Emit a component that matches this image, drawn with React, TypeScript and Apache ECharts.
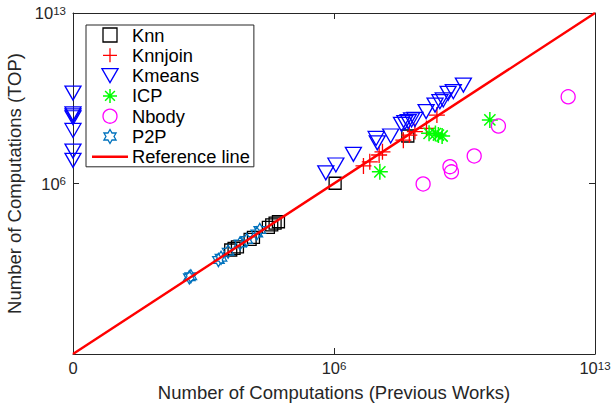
import React, { useEffect, useRef } from 'react';
import * as echarts from 'echarts';

// All values are log10 of the number of computations: [previous works, TOP]
// (-1 on the axis is the position labelled "0")
const seriesNames = ['Knn', 'Knnjoin', 'Kmeans', 'ICP', 'Nbody', 'P2P', 'Reference line'];

const knn: number[][] = [
  [3.23, 3.27], [3.32, 3.34], [3.41, 3.40], [3.75, 3.71], [3.84, 3.79],
  [4.24, 4.20], [4.33, 4.30], [4.42, 4.37], [4.51, 4.43], [6.03, 6.01], [7.98, 7.95],
];
const knnjoin: number[][] = [
  [6.79, 6.72], [6.96, 6.89], [7.21, 7.17], [7.30, 7.30], [7.86, 7.78],
  [8.02, 7.99], [8.17, 8.13], [8.48, 8.26], [8.76, 8.81],
];
const kmeans: number[][] = [
  [-1, 9.71], [-1, 8.86], [-1, 8.78], [-1, 8.70], [-1, 8.18], [-1, 7.33], [-1, 6.95],
  [5.78, 6.44], [6.05, 6.76], [6.52, 7.20], [7.13, 7.85], [7.16, 7.67], [7.52, 7.95],
  [7.81, 8.43], [7.90, 8.50], [7.99, 8.54], [8.08, 8.61], [8.17, 8.63], [8.47, 8.95],
  [8.71, 9.22], [8.84, 9.36], [8.93, 9.43], [9.06, 9.70], [9.20, 9.77], [9.47, 10.04],
];
const icp: number[][] = [
  [7.23, 6.48], [8.55, 8.06], [8.72, 8.05], [8.80, 7.99], [8.90, 7.95], [10.18, 8.61],
];
const nbody: number[][] = [
  [8.39, 5.98], [9.11, 6.69], [9.15, 6.48], [9.76, 7.13], [10.41, 8.36], [12.28, 9.56],
];
const p2p: number[][] = [
  [2.12, 2.15], [2.16, 2.19], [2.90, 2.86], [2.97, 2.95], [3.16, 3.20],
  [3.48, 3.54], [3.66, 3.68], [3.93, 3.95], [4.01, 4.09],
];
const refLine: number[][] = [[-1, -1], [13, 13]];

// axis ticks (log10 exponents); -1 is shown as "0"
const tickExponents = [-1, 6, 13];

const FONT = '"Liberation Sans", Arial, Helvetica, sans-serif';
const AXIS_COLOR = '#262626';

const shift = (pts: number[][]) => pts.map((p) => [p[0] + 1, p[1] + 1]);
const AX_MIN = tickExponents[0] + 1;
const AX_MAX = tickExponents[2] + 1;
const AX_INT = tickExponents[1] - tickExponents[0];

const labelFormatter = (v: number) => {
  const e = Math.round(v - 1);
  if (e === tickExponents[0]) return '{z|0}';
  return `{p|10}{s|${e}}`;
};

const richLabel = {
  z: { fontFamily: FONT, fontSize: 16.5, lineHeight: 17, color: AXIS_COLOR },
  p: { fontFamily: FONT, fontSize: 16.5, lineHeight: 17, padding: [5, 0, 0, 0], verticalAlign: 'bottom', color: AXIS_COLOR },
  s: { fontFamily: FONT, fontSize: 11.5, lineHeight: 11, verticalAlign: 'top', color: AXIS_COLOR },
};

const square = 'path://M0,0 L10,0 L10,10 L0,10 Z';
const triangleDown = 'path://M0,0 L10,0 L5,8.66 Z';
const plusSym = 'path://M0,5 L10,5 M5,0 L5,10';
const asterisk = 'path://M0,5 L10,5 M5,0 L5,10 M1.5,1.5 L8.5,8.5 M1.5,8.5 L8.5,1.5';
const hexagram =
  'path://M5,0 L6.443,2.5 L9.33,2.5 L7.887,5 L9.33,7.5 L6.443,7.5 L5,10 L3.557,7.5 L0.67,7.5 L2.113,5 L0.67,2.5 L3.557,2.5 Z';

function scatter(name: string, data: number[][], symbol: string, size: number | number[], color: string, bw = 1.3) {
  return {
    name,
    type: 'scatter',
    data: shift(data),
    symbol,
    symbolSize: size,
    clip: false,
    silent: true,
    itemStyle: { color: 'transparent', borderColor: color, borderWidth: bw, opacity: 1 },
  };
}

export default function App() {
  const ref = useRef<HTMLDivElement>(null);
  useEffect(() => {
    document.body.style.margin = '0';
    if (!ref.current) return;
    const chart = echarts.init(ref.current, null, { renderer: 'svg' });
    const axisCommon = {
      type: 'value',
      min: AX_MIN,
      max: AX_MAX,
      interval: AX_INT,
      splitLine: { show: false },
      axisLine: { show: true, onZero: false, lineStyle: { color: AXIS_COLOR, width: 1 } },
      axisTick: { show: true, inside: true, length: 6, lineStyle: { color: AXIS_COLOR, width: 1 } },
    };
    const labelBase = {
      show: true,
      fontFamily: FONT,
      fontSize: 16.5,
      color: AXIS_COLOR,
      formatter: labelFormatter,
      rich: richLabel,
      interval: 0,
    };
    chart.setOption({
      animation: false,
      backgroundColor: '#ffffff',
      grid: { left: 73, right: 20, top: 13, bottom: 54, containLabel: false, outerBoundsMode: 'none' },
      legend: {
        orient: 'vertical',
        left: 86,
        top: 25,
        padding: [1, 4, 1, 6],
        itemGap: 2.3,
        itemWidth: 36,
        itemHeight: 14,
        selectedMode: false,
        borderColor: AXIS_COLOR,
        borderWidth: 1,
        backgroundColor: '#ffffff',
        textStyle: { fontFamily: FONT, fontSize: 18.3, color: '#000000', lineHeight: 16, padding: [0, 0, 0, -1] },
        itemStyle: { borderWidth: 1.3 },
        data: [
          { name: seriesNames[0] },
          { name: seriesNames[1] },
          { name: seriesNames[2] },
          { name: seriesNames[3], itemStyle: { borderWidth: 1.5 } },
          { name: seriesNames[4] },
          { name: seriesNames[5] },
          {
            name: seriesNames[6],
            icon: 'path://M0,0 L36,0 L36,2.4 L0,2.4 Z',
            itemStyle: { color: '#ff0000', borderWidth: 0 },
          },
        ],
      },
      xAxis: [
        {
          ...axisCommon,
          position: 'bottom',
          name: 'Number of Computations (Previous Works)',
          nameLocation: 'middle',
          nameGap: 29,
          nameTextStyle: { fontFamily: FONT, fontSize: 18.5, color: AXIS_COLOR },
          axisLabel: { ...labelBase, margin: 5.5 },
        },
        {
          ...axisCommon,
          position: 'top',
          axisLabel: { show: false },
        },
      ],
      yAxis: [
        {
          ...axisCommon,
          position: 'left',
          name: 'Number of Computations (TOP)',
          nameLocation: 'middle',
          nameGap: 42,
          nameTextStyle: { fontFamily: FONT, fontSize: 18.5, color: AXIS_COLOR },
          axisLabel: { ...labelBase, margin: 7, showMinLabel: false },
        },
        {
          ...axisCommon,
          position: 'right',
          axisLabel: { show: false },
        },
      ],
      series: [
        scatter(seriesNames[0], knn, square, 12, '#000000'),
        scatter(seriesNames[1], knnjoin, plusSym, 16, '#ff0000'),
        scatter(seriesNames[2], kmeans, triangleDown, [16, 14], '#0000ff'),
        scatter(seriesNames[3], icp, asterisk, 16, '#00ff00', 1.5),
        scatter(seriesNames[4], nbody, 'circle', 14, '#ff00ff'),
        scatter(seriesNames[5], p2p, hexagram, [11.5, 13.3], '#0072bd'),
        {
          name: seriesNames[6],
          type: 'line',
          data: shift(refLine),
          symbol: 'none',
          silent: true,
          clip: false,
          color: '#ff0000',
          lineStyle: { color: '#ff0000', width: 2.4 },
        },
      ],
    });
    return () => chart.dispose();
  }, []);
  return <div ref={ref} style={{ width: 615, height: 408 }} />;
}
